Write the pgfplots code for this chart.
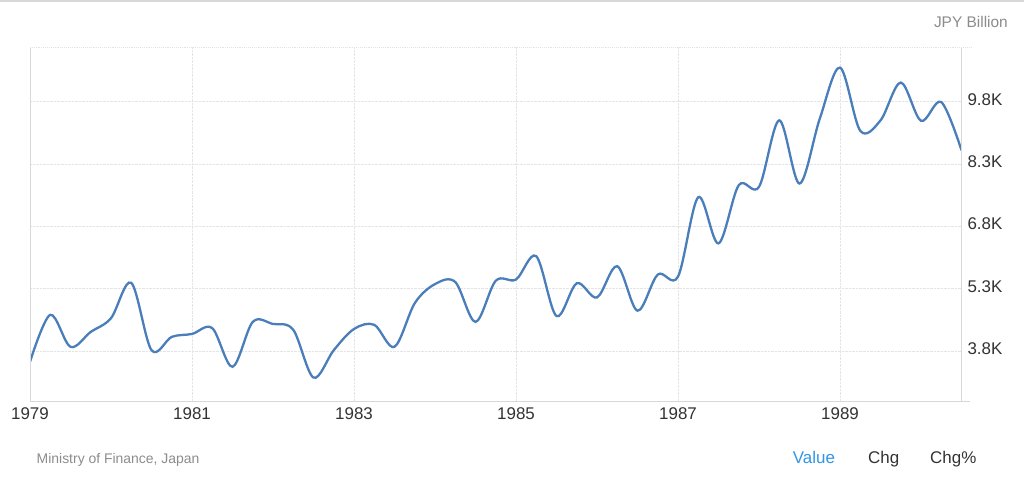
\documentclass[border=0pt]{standalone}
\usepackage{fontspec}
\setmainfont{Liberation Sans}
\usepackage{pgfplots}
\pgfplotsset{compat=1.18}
\usepackage{pgfplotstable}
\definecolor{linec}{RGB}{74,126,187}
\definecolor{tickc}{RGB}{51,51,51}
\definecolor{gridc}{RGB}{228,228,228}
\definecolor{axisc}{RGB}{216,216,216}
\definecolor{notec}{RGB}{140,140,140}
\definecolor{valc}{RGB}{48,150,232}
\pgfplotstableread{
x y
1979.00 3.54
1979.25 4.67
1979.50 3.90
1979.75 4.26
1980.00 4.59
1980.25 5.44
1980.50 3.82
1980.75 4.14
1981.00 4.21
1981.25 4.35
1981.50 3.42
1981.75 4.50
1982.00 4.45
1982.25 4.31
1982.50 3.16
1982.75 3.82
1983.00 4.33
1983.25 4.43
1983.50 3.90
1983.75 4.95
1984.00 5.41
1984.25 5.46
1984.50 4.50
1984.75 5.49
1985.00 5.52
1985.25 6.08
1985.50 4.64
1985.75 5.43
1986.00 5.09
1986.25 5.84
1986.50 4.77
1986.75 5.64
1987.00 5.59
1987.25 7.50
1987.50 6.39
1987.75 7.79
1988.00 7.75
1988.25 9.35
1988.50 7.83
1988.75 9.39
1989.00 10.62
1989.25 9.10
1989.50 9.35
1989.75 10.26
1990.00 9.34
1990.25 9.79
1990.50 8.63
}\exports
\begin{document}
\begin{tikzpicture}[x=1bp,y=1bp]
\path[use as bounding box, fill=white] (0,0) rectangle (1024,492);
\draw[axisc, line width=1.5bp] (0,491.2) -- (1024,491.2);
\begin{axis}[
  at={(30bp,90.3bp)}, anchor=south west,
  width=931.5bp, height=354.7bp, scale only axis,
  xmin=1979, xmax=1990.5,
  ymin=2.580, ymax=11.116,
  axis line style={draw=none},
  tick style={draw=none},
  xtick={1979,1981,1983,1985,1987,1989},
  xticklabels={1979,1981,1983,1985,1987,1989},
  ytick={3.8,5.3,6.8,8.3,9.8},
  yticklabels={3.8K,5.3K,6.8K,8.3K,9.8K},
  yticklabel pos=right,
  grid=major,
  major grid style={densely dotted, color=gridc, line width=0.9bp},
  xticklabel style={anchor=north, inner sep=0pt, yshift=-5.6bp, font=\fontsize{17}{19}\selectfont, text=tickc},
  yticklabel style={anchor=west, inner sep=0pt, xshift=5.8bp, yshift=2.4bp, font=\fontsize{17}{19}\selectfont, text=tickc},
]
\addplot[linec, line width=2.3bp, smooth, tension=0.55, mark=none] table[x=x,y=y] {\exports};
\end{axis}
\draw[axisc, line width=1bp] (30,90.3) -- (30,445);
\draw[axisc, line width=1bp] (961.5,90.3) -- (961.5,445);
\draw[axisc, line width=1.2bp] (30,90.3) -- (970,90.3);
\draw[gridc, densely dotted, line width=0.9bp] (30,445) -- (971,445);
\node[anchor=base east, inner sep=0pt, text=notec, font=\fontsize{15.5}{17}\selectfont] at (1008,464) {JPY Billion};
\node[anchor=base west, inner sep=0pt, text=notec, font=\fontsize{14}{16}\selectfont] at (36.5,28.7) {Ministry of Finance, Japan};
\node[anchor=base west, inner sep=0pt, text=valc, font=\fontsize{17}{19}\selectfont] at (792.7,28.7) {Value};
\node[anchor=base west, inner sep=0pt, text=tickc, font=\fontsize{17}{19}\selectfont] at (868,28.7) {Chg};
\node[anchor=base west, inner sep=0pt, text=tickc, font=\fontsize{17}{19}\selectfont] at (930,28.7) {Chg\%};
\end{tikzpicture}
\end{document}
